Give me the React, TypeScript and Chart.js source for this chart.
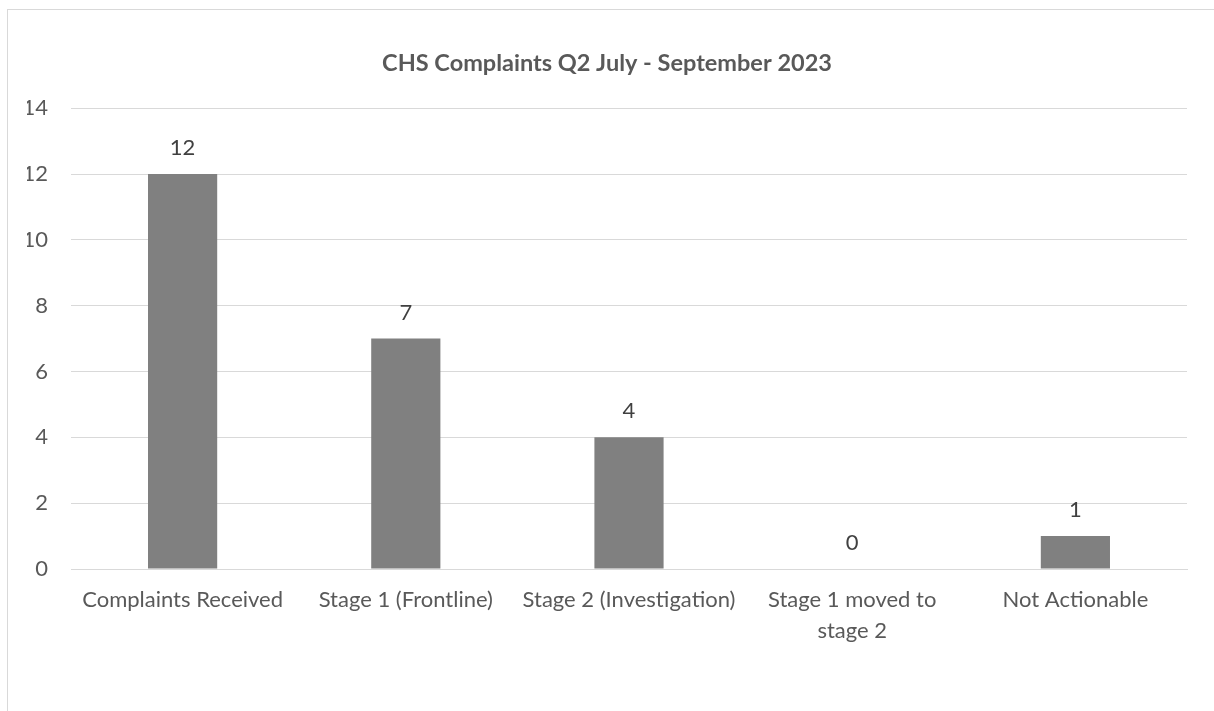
import React, { useEffect, useRef } from "react";
import { Chart, registerables } from "chart.js";

Chart.register(...registerables);

const categories: (string | string[])[] = [
  "Complaints Received",
  "Stage 1 (Frontline)",
  "Stage 2 (Investigation)",
  ["Stage 1 moved to", "stage 2"],
  "Not Actionable",
];
const values: number[] = [12, 7, 4, 0, 1];
const yTicks: number[] = [0, 2, 4, 6, 8, 10, 12, 14];
const titleText = "CHS Complaints Q2 July - September 2023";

const FONT = "Lato, 'Open Sans', sans-serif";

const dataLabelPlugin = {
  id: "dataLabels",
  afterDatasetsDraw(chart: any) {
    const ctx = chart.ctx;
    const meta = chart.getDatasetMeta(0);
    ctx.save();
    ctx.font = `22px ${FONT}`;
    ctx.fillStyle = "#404040";
    ctx.textAlign = "center";
    ctx.textBaseline = "middle";
    meta.data.forEach((el: any, i: number) => {
      const v = chart.data.datasets[0].data[i];
      ctx.fillText(String(v), el.x, el.y - 26);
    });
    ctx.restore();
  },
};

export default function App() {
  const ref = useRef<HTMLCanvasElement | null>(null);
  useEffect(() => {
    if (!ref.current) return;
    const chart = new Chart(ref.current, {
      type: "bar",
      data: {
        labels: categories,
        datasets: [
          {
            data: values,
            backgroundColor: "#808080",
            categoryPercentage: 1,
            barPercentage: 0.31,
          },
        ],
      },
      options: {
        responsive: false,
        animation: false,
        devicePixelRatio: 1,
        layout: { padding: { left: 27, right: 27, top: 0, bottom: 0 } },
        plugins: {
          legend: { display: false },
          tooltip: { enabled: false },
          title: {
            display: true,
            text: titleText,
            color: "#595959",
            font: { family: FONT, size: 23.5, weight: "bold", lineHeight: 1.2 },
            padding: { top: 49, bottom: 31 },
          },
        },
        scales: {
          x: {
            grid: { display: false },
            border: { display: true, color: "#d9d9d9", width: 1 },
            ticks: {
              color: "#595959",
              font: { family: FONT, size: 22, lineHeight: 1.38 },
              padding: 8,
              maxRotation: 0,
              autoSkip: false,
            },
            afterFit: (s: any) => {
              s.height = 142;
            },
          },
          y: {
            min: 0,
            max: 14,
            afterBuildTicks: (s: any) => {
              s.ticks = yTicks.map((v) => ({ value: v }));
            },
            grid: { color: "#d9d9d9", lineWidth: 1, drawTicks: false },
            border: { display: false },
            ticks: {
              color: "#595959",
              font: { family: FONT, size: 22 },
              padding: 23,
            },
            afterFit: (s: any) => {
              s.width = 44;
            },
          },
        },
      },
      plugins: [dataLabelPlugin],
    });
    return () => chart.destroy();
  }, []);

  return (
    <>
      <div
        style={{
          position: "fixed",
          left: 7,
          top: 9,
          width: 1240,
          height: 740,
          border: "1px solid #d9d9d9",
          background: "#fff",
        }}
      />
      <canvas
        ref={ref}
        width={1214}
        height={711}
        style={{ position: "fixed", left: 0, top: 0, display: "block" }}
      />
    </>
  );
}
